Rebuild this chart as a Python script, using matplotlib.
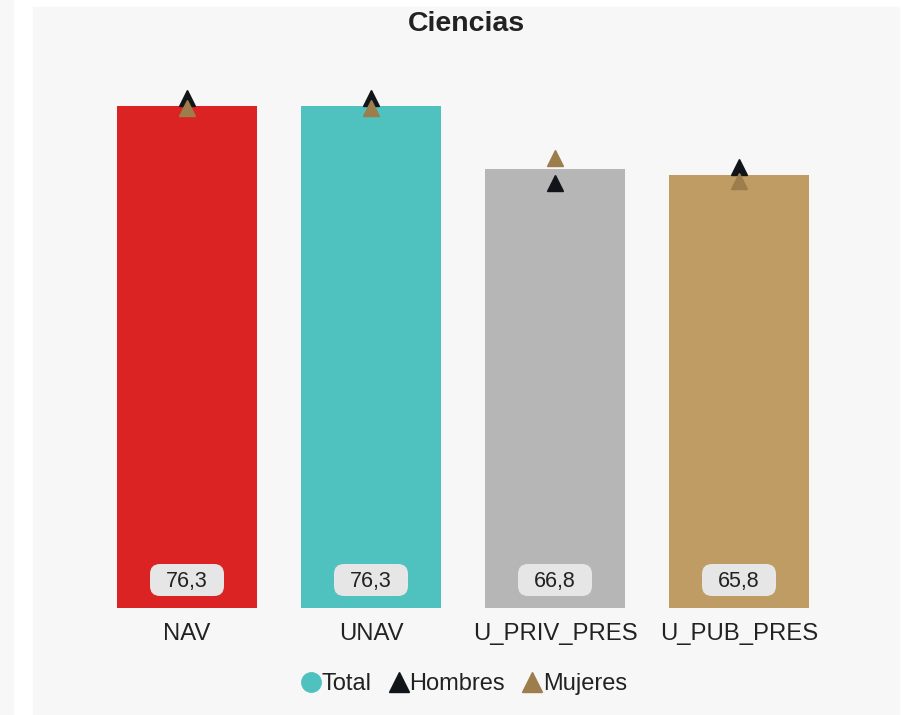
import matplotlib.pyplot as plt
from matplotlib.lines import Line2D
from matplotlib.patches import Rectangle, FancyBboxPatch

plt.rcParams["font.family"] = ["Liberation Sans", "DejaVu Sans"]

categorias = ["NAV", "UNAV", "U_PRIV_PRES", "U_PUB_PRES"]
total = [76.3, 76.3, 66.8, 65.8]
hombres = [77.6, 77.6, 64.6, 67.1]
mujeres = [76.1, 76.1, 68.4, 65.0]
etiquetas = ["76,3", "76,3", "66,8", "65,8"]

colores = ["#dc2323", "#4fc2bf", "#b6b6b6", "#be9c64"]
COLOR_H = "#111419"
COLOR_M = "#9c7d4b"
FONDO = "#f7f7f7"

W, H = 907, 715
fig = plt.figure(figsize=(W / 100, H / 100), dpi=100, facecolor="white")

# paneles de fondo
fig.patches.append(Rectangle((0, 0), 13 / W, 1, transform=fig.transFigure,
                             color=FONDO, zorder=-10))
fig.patches.append(Rectangle((33 / W, 0), 866 / W, 1 - 7 / H,
                             transform=fig.transFigure, color=FONDO, zorder=-10))

AX_W, AX_H = 736, 526
YMAX = 80
ax = fig.add_axes([95 / W, (H - 608) / H, AX_W / W, AX_H / H])
ax.set_facecolor("none")
x = range(len(categorias))
ax.bar(x, total, width=0.766, color=colores, zorder=2)
ax.plot(x, hombres, "^", color=COLOR_H, ms=11.5, ls="none", zorder=3)
ax.plot(x, mujeres, "^", color=COLOR_M, ms=11.5, ls="none", zorder=4)

# cajas de etiqueta (tamaño en px convertido a unidades de datos)
px_x = 4 / AX_W
px_y = YMAX / AX_H
caja_w, caja_h = 74 * px_x, 32 * px_y
caja_y = 28 * px_y
for i, et in enumerate(etiquetas):
    caja = FancyBboxPatch((i - caja_w / 2, caja_y - caja_h / 2), caja_w, caja_h,
                          boxstyle=f"round,pad=0,rounding_size={10 * px_x}",
                          mutation_aspect=px_y / px_x,
                          fc="#e6e6e6", ec="none", zorder=5)
    ax.add_patch(caja)
    ax.text(i, caja_y - 1.5 * px_y, et, ha="center", va="center",
            fontsize=15.5, color="#222222", zorder=6)

ax.set_xlim(-0.5, 3.5)
ax.set_ylim(0, YMAX)
ax.set_xticks(list(x))
ax.set_xticklabels(categorias, fontsize=17.2, color="#222222")
ax.tick_params(axis="x", length=0, pad=11)
ax.set_yticks([])
for s in ax.spines.values():
    s.set_visible(False)

fig.text(466 / W, 1 - 24 / H, "Ciencias", ha="center", va="center",
         fontsize=20.5, fontweight="bold", color="#222222")

handles = [
    Line2D([], [], marker="o", color=colores[1], ls="none", ms=14),
    Line2D([], [], marker="^", color=COLOR_H, ls="none", ms=14),
    Line2D([], [], marker="^", color=COLOR_M, ls="none", ms=14),
]
fig.legend(handles, ["Total", "Hombres", "Mujeres"], loc="center",
           bbox_to_anchor=(462 / W, 1 - 684 / H), ncol=3, frameon=False,
           fontsize=17, handletextpad=-0.15, columnspacing=0.55,
           handlelength=1.2, labelcolor="#222222")

fig.savefig("out.png", dpi=100, facecolor="white")
